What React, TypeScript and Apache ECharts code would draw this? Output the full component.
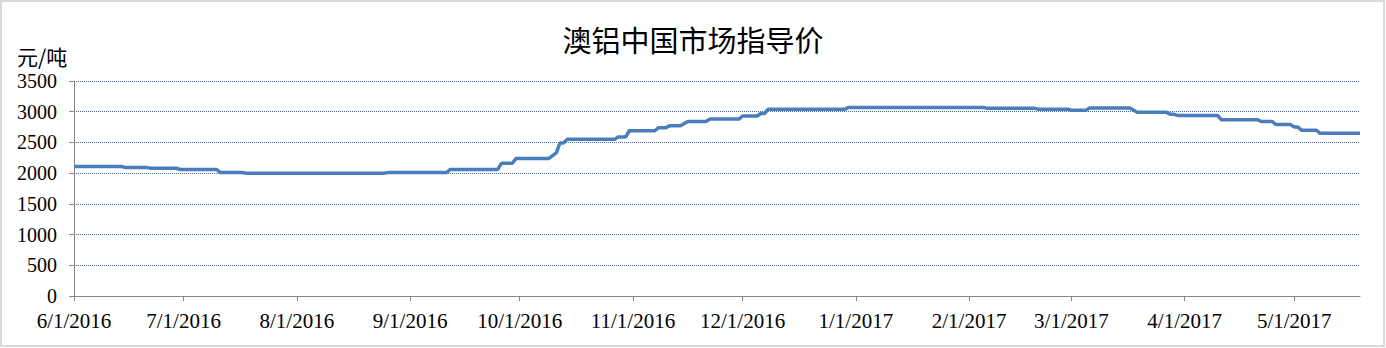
import React, { useEffect, useRef } from 'react';
import * as echarts from 'echarts';

const titleText = '澳铝中国市场指导价';
const unitText = '元/吨';

const pointDates = [
  '6/1/2016', '6/14/2016', '6/15/2016', '6/21/2016', '6/22/2016', '6/29/2016',
  '6/30/2016', '7/10/2016', '7/11/2016', '7/17/2016', '7/18/2016', '8/25/2016',
  '8/26/2016', '9/11/2016', '9/12/2016', '9/25/2016', '9/26/2016', '9/29/2016',
  '9/30/2016', '10/9/2016', '10/11/2016', '10/12/2016', '10/13/2016', '10/14/2016',
  '10/27/2016', '10/28/2016', '10/30/2016', '10/31/2016', '11/7/2016', '11/8/2016',
  '11/10/2016', '11/11/2016', '11/14/2016', '11/16/2016', '11/21/2016', '11/22/2016',
  '11/30/2016', '12/1/2016', '12/5/2016', '12/6/2016', '12/7/2016', '12/8/2016',
  '12/29/2016', '12/30/2016', '2/5/2017', '2/6/2017', '2/19/2017', '2/20/2017',
  '2/28/2017', '3/1/2017', '3/5/2017', '3/6/2017', '3/17/2017', '3/19/2017',
  '3/27/2017', '3/28/2017', '3/29/2017', '3/30/2017', '4/10/2017', '4/11/2017',
  '4/21/2017', '4/22/2017', '4/25/2017', '4/26/2017', '4/30/2017', '5/1/2017',
  '5/2/2017', '5/3/2017', '5/7/2017', '5/8/2017', '5/19/2017',
];

const pointValues = [
  2110, 2110, 2090, 2090, 2080, 2080,
  2060, 2060, 2010, 2010, 2000, 2000,
  2010, 2010, 2060, 2060, 2160, 2160,
  2240, 2240, 2330, 2490, 2490, 2550,
  2550, 2590, 2590, 2690, 2690, 2740,
  2740, 2770, 2770, 2840, 2840, 2880,
  2880, 2930, 2930, 2970, 2970, 3040,
  3040, 3070, 3070, 3055, 3055, 3040,
  3040, 3025, 3025, 3060, 3060, 2990,
  2990, 2960, 2960, 2940, 2940, 2870,
  2870, 2840, 2840, 2790, 2790, 2750,
  2750, 2700, 2700, 2650, 2650,
];

const tickLabels = [
  '6/1/2016', '7/1/2016', '8/1/2016', '9/1/2016', '10/1/2016', '11/1/2016',
  '12/1/2016', '1/1/2017', '2/1/2017', '3/1/2017', '4/1/2017', '5/1/2017',
];
const axisStart = '6/1/2016';
const axisEnd = '5/19/2017';

function toTs(s: string): number {
  const [m, d, y] = s.split('/').map(Number);
  return Date.UTC(y, m - 1, d);
}
function fmt(ts: number): string {
  const dt = new Date(ts);
  return `${dt.getUTCMonth() + 1}/${dt.getUTCDate()}/${dt.getUTCFullYear()}`;
}

export default function App() {
  const ref = useRef<HTMLDivElement>(null);
  useEffect(() => {
    document.body.style.margin = '0';
    if (!ref.current) return;
    const chart = echarts.init(ref.current, null, { renderer: 'svg' });
    const tickTs = tickLabels.map(toTs);
    chart.setOption({
      animation: false,
      backgroundColor: '#ffffff',
      title: {
        text: titleText,
        left: 'center',
        top: 19,
        textStyle: {
          fontSize: 29,
          fontWeight: 'normal',
          color: '#000000',
          fontFamily: 'Noto Sans CJK SC',
        },
      },
      graphic: [
        {
          type: 'rect',
          shape: { x: 1, y: 1, width: 1383, height: 345 },
          style: { fill: 'none', stroke: '#d9d9d9', lineWidth: 2 },
          silent: true,
        },
        {
          type: 'text',
          left: 17,
          top: 45,
          style: {
            text: unitText,
            fontSize: 21,
            fill: '#000000',
            fontFamily: 'Noto Sans CJK SC',
          },
        },
      ],
      grid: { left: 74, right: 26, top: 81, bottom: 52, containLabel: false },
      xAxis: {
        type: 'value',
        min: toTs(axisStart),
        max: toTs(axisEnd),
        axisLine: { show: true, lineStyle: { color: '#868686', width: 1 } },
        axisTick: {
          show: true,
          customValues: tickTs,
          length: 5,
          lineStyle: { color: '#868686' },
        },
        axisLabel: {
          customValues: tickTs,
          formatter: (v: number) => fmt(v),
          fontFamily: 'Liberation Serif',
          fontSize: 21,
          color: '#000000',
          margin: 14,
        },
        splitLine: { show: false },
      },
      yAxis: {
        type: 'value',
        min: 0,
        max: 3500,
        interval: 500,
        axisLine: { show: true, lineStyle: { color: '#868686', width: 1 } },
        axisTick: { show: true, length: 5, lineStyle: { color: '#868686' } },
        axisLabel: {
          formatter: (v: number) => String(v),
          fontFamily: 'Liberation Serif',
          fontSize: 20,
          color: '#000000',
          margin: 17,
        },
        splitLine: {
          show: true,
          lineStyle: { color: '#4a6a9a', type: 'dotted', width: 1 },
        },
      },
      series: [
        {
          type: 'line',
          data: pointDates.map((d, i) => [toTs(d), pointValues[i]]),
          showSymbol: false,
          symbol: 'none',
          lineStyle: { color: '#4a7ebb', width: 3.5 },
          itemStyle: { color: '#4a7ebb' },
        },
      ],
    });
    return () => chart.dispose();
  }, []);
  return <div ref={ref} style={{ width: 1386, height: 348 }} />;
}
